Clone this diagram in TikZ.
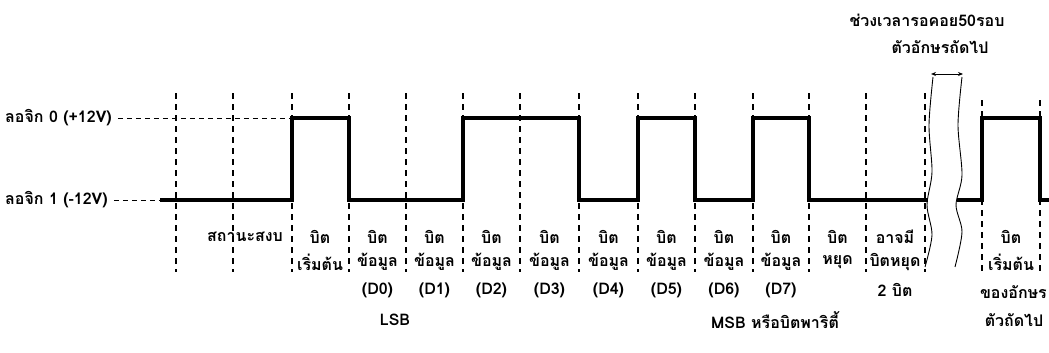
\documentclass[tikz,border=0pt]{standalone}
\usepackage{fontspec}
\setmainfont{Loma}[Script=Thai]
\usetikzlibrary{arrows.meta}
\begin{document}
\begin{tikzpicture}[x=1pt,y=-1pt,
  lbl/.style={inner sep=0pt, font=\fontsize{16}{18}\selectfont\bfseries},
  gridline/.style={line width=1.1pt, dash pattern=on 6pt off 5pt},
  refdash/.style={line width=1pt, dash pattern=on 5pt off 4pt},
  signal/.style={line width=3.5pt, line join=miter},
  brk/.style={line width=0.9pt},
]
\useasboundingbox (0,0) rectangle (1049,353);

% bit boundaries
\foreach \x in {176,233,292,349,406,463,520,579,638,695,753,809,866,925}
  \draw[gridline] (\x,93) -- (\x,272);
\foreach \x in {982,1040}
  \draw[gridline] (\x,100) -- (\x,272);

% logic level references
\node[lbl, anchor=west] (lv0) at (5,118) {ลอจิก 0 (+12V)};
\node[lbl, anchor=west] (lv1) at (5,200) {ลอจิก 1 (-12V)};
\draw[refdash] (lv0.east) ++(6,0) -- (292,118);
\draw[refdash] (lv1.east) ++(6,0) -- (160,200);

% serial frame
\draw[signal] (160,200) -| (292,118) -| (349,200) -| (463,118) -| (579,200)
  -| (638,118) -| (695,200) -| (753,118) -| (809,200) -- (928,200);
\draw[signal] (957,200) -| (982,118) -| (1040,200) -- (1052,200);

% time break
\draw[brk] plot[smooth] coordinates {(933,77) (929,125) (932,172) (927,205) (932,235) (925,267)};
\draw[brk] plot[smooth] coordinates {(962,77) (958,125) (962,175) (956,205) (962,232) (955,267)};
\draw[{Stealth[length=5pt,width=4pt]}-{Stealth[length=5pt,width=4pt]}, line width=1pt] (931,74) -- (963,74);
\node[lbl] (wait1) at (927,20) {ช่วงเวลารอคอย50รอบ};
\node[lbl] (wait2) at (940,47) {ตัวอักษรถัดไป};

% cell texts
\node[lbl] (idle) at (245,237) {สถานะสงบ};
\node[lbl] (st1) at (320,237) {บิต};
\node[lbl] (st2) at (320,262) {เริ่มต้น};
\foreach \x [count=\i from 0] in {377.5,434.5,491.5,549.5,608.5,666.5,724,781} {
  \node[lbl] (d\i a) at (\x,237) {บิต};
  \node[lbl] (d\i b) at (\x,262) {ข้อมูล};
  \node[lbl] (d\i c) at (\x,290) {(D\i)};
}
\node[lbl] (sp1) at (837.5,237) {บิต};
\node[lbl] (sp2) at (837.5,262) {หยุด};
\node[lbl] (ex1) at (895,237) {อาจมี};
\node[lbl] (ex2) at (895,262) {บิตหยุด};
\node[lbl] (ex3) at (895,290) {2 บิต};
\node[lbl] (nx1) at (1011,237) {บิต};
\node[lbl] (nx2) at (1011,262) {เริ่มต้น};
\node[lbl, anchor=east] (nx3) at (1047,292) {ของอักษร};
\node[lbl] (nx4) at (1014,320) {ตัวถัดไป};
\node[lbl] (lsb) at (395,320) {LSB};
\node[lbl] (msb) at (775,320) {MSB หรือบิตพาริตี้};
\end{tikzpicture}
\end{document}
